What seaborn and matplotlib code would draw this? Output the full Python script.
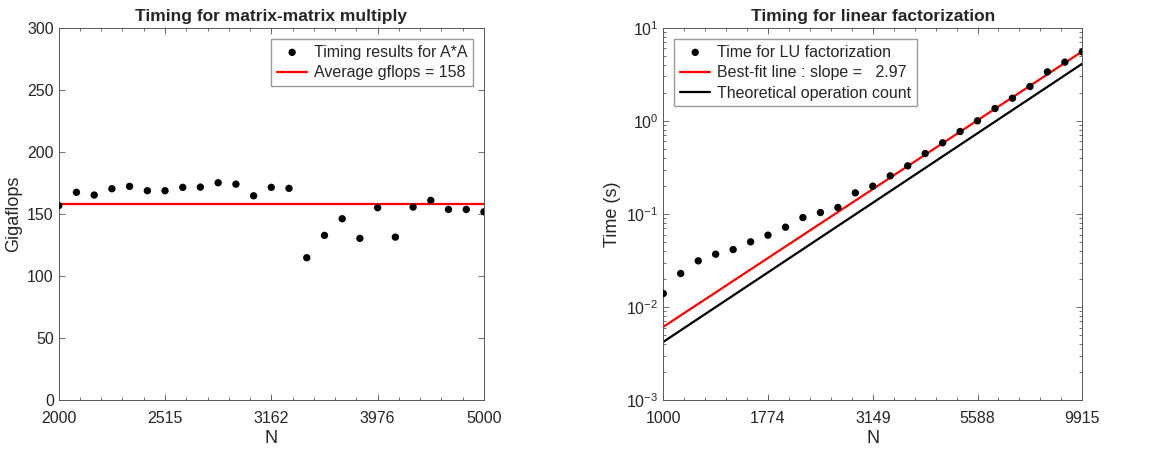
import numpy as np
import pandas as pd
import matplotlib
matplotlib.use("Agg")
import matplotlib.pyplot as plt
import seaborn as sns
from matplotlib.ticker import FixedLocator, NullFormatter, LogLocator

# Matrix-matrix multiply timings (N, gigaflops)
n_mm = [2000, 2078, 2159, 2243, 2330, 2421, 2515, 2613, 2714, 2820, 2930, 3044, 3162,
        3285, 3413, 3546, 3684, 3827, 3976, 4131, 4292, 4459, 4632, 4813, 5000]
gflops = [156.6, 167.4, 165.2, 170.3, 172.2, 168.7, 168.7, 171.4, 171.6, 175.1, 174.0, 164.6, 171.4,
          170.6, 114.7, 132.7, 146.1, 130.3, 155.0, 131.3, 155.5, 160.9, 153.6, 153.6, 151.7]

# LU factorization timings (N, seconds)
n_lu = [1000, 1100, 1211, 1332, 1466, 1613, 1774, 1953, 2148, 2364, 2601, 2862, 3149,
        3465, 3813, 4196, 4616, 5080, 5588, 6150, 6767, 7446, 8193, 9014, 9915]
t_lu = [0.01395, 0.0229, 0.0313, 0.0369, 0.0414, 0.0501, 0.0591, 0.0720, 0.0914, 0.1035, 0.1172, 0.1683, 0.1986,
        0.2565, 0.3283, 0.4455, 0.5805, 0.768, 1.0, 1.357, 1.752, 2.338, 3.36, 4.27, 5.51]

# best-fit line in log-log space: t = fit_t0 * (N / N0)^fit_slope
fit_slope = 2.97
fit_t0 = 0.00612

sns.set_theme(style="white")
plt.rcParams['font.family'] = ['Liberation Sans', 'DejaVu Sans']
plt.rcParams['mathtext.fontset'] = 'custom'
plt.rcParams['mathtext.rm'] = 'Liberation Sans'
plt.rcParams['mathtext.it'] = 'Liberation Sans:italic'

text_col = '#262626'
spine_col = '0.35'

fig = plt.figure(figsize=(11.69, 4.5), dpi=100)
ax1 = fig.add_axes([0.0502, 0.111, 0.3638, 0.8273])
ax2 = fig.add_axes([0.5674, 0.111, 0.3584, 0.8273])

leg_kw = dict(fontsize=11.5, frameon=True, fancybox=False, edgecolor='0.6', framealpha=1,
              borderpad=0.35, handlelength=1.9, handletextpad=0.4, labelspacing=0.35,
              borderaxespad=0.7)

# ---- left: matrix-matrix multiply ----
df_mm = pd.DataFrame({'N': n_mm, 'gflops': gflops})
avg = df_mm['gflops'].mean()
sns.scatterplot(data=df_mm, x='N', y='gflops', ax=ax1, color='black', s=28,
                edgecolor='none', label='Timing results for A*A', zorder=3)
df_avg = pd.DataFrame({'N': [n_mm[0], n_mm[-1]], 'avg': [avg, avg]})
sns.lineplot(data=df_avg, x='N', y='avg', ax=ax1, color='red', lw=1.6,
             label=f'Average gflops = {avg:.0f}', zorder=2)
ax1.set_xscale('log')
ax1.set_xlim(n_mm[0], n_mm[-1])
ax1.set_ylim(0, 300)
ax1.xaxis.set_major_locator(FixedLocator(n_mm[::6]))
ax1.set_xticklabels([str(v) for v in n_mm[::6]])
ax1.xaxis.set_minor_locator(FixedLocator(np.geomspace(n_mm[0], n_mm[-1], 21)))
ax1.xaxis.set_minor_formatter(NullFormatter())
ax1.set_yticks(np.arange(0, 301, 50))
ax1.set_xlabel('N', fontsize=13, color=text_col, labelpad=3)
ax1.set_ylabel('Gigaflops', fontsize=13, color=text_col)
ax1.set_title('Timing for matrix-matrix multiply', fontsize=12.5, fontweight='bold', pad=5)
ax1.legend(loc='upper right', **leg_kw)

# ---- right: LU factorization ----
df_lu = pd.DataFrame({'N': n_lu, 't': t_lu})
n_arr = np.array(n_lu, dtype=float)
df_lu['fit'] = fit_t0 * (n_arr / n_arr[0]) ** fit_slope
df_lu['theory'] = (2.0 / 3.0) * n_arr ** 3 / (avg * 1e9)
sns.scatterplot(data=df_lu, x='N', y='t', ax=ax2, color='black', s=28,
                edgecolor='none', label='Time for LU factorization', zorder=3)
sns.lineplot(data=df_lu, x='N', y='fit', ax=ax2, color='red', lw=1.6,
             label=f'Best-fit line : slope = {fit_slope:6.2f}', zorder=2)
sns.lineplot(data=df_lu, x='N', y='theory', ax=ax2, color='black', lw=1.6,
             label='Theoretical operation count', zorder=2)
ax2.set_xscale('log')
ax2.set_yscale('log')
ax2.set_xlim(n_lu[0], n_lu[-1])
ax2.set_ylim(1e-3, 1e1)
ax2.xaxis.set_major_locator(FixedLocator(n_lu[::6]))
ax2.set_xticklabels([str(v) for v in n_lu[::6]])
ax2.xaxis.set_minor_locator(FixedLocator(np.geomspace(n_lu[0], n_lu[-1], 21)))
ax2.xaxis.set_minor_formatter(NullFormatter())
ax2.yaxis.set_major_locator(LogLocator(base=10, numticks=10))
ax2.yaxis.set_minor_locator(LogLocator(base=10, subs=np.arange(2, 10), numticks=10))
ax2.yaxis.set_minor_formatter(NullFormatter())
ax2.set_xlabel('N', fontsize=13, color=text_col, labelpad=3)
ax2.set_ylabel('Time (s)', fontsize=13, color=text_col)
ax2.set_title('Timing for linear factorization', fontsize=12.5, fontweight='bold', pad=5)
ax2.legend(loc='upper left', **leg_kw)

for ax in (ax1, ax2):
    for sp in ax.spines.values():
        sp.set_color(spine_col)
        sp.set_linewidth(0.7)
    ax.tick_params(which='both', direction='in', bottom=True, left=True, top=True, right=True,
                   colors=spine_col, labelcolor=text_col, labelsize=11.5, width=0.6)
    ax.tick_params(which='major', length=4)
    ax.tick_params(which='minor', length=2.5)
    ax.tick_params(axis='x', pad=8)

fig.savefig('out.png', dpi=100)
